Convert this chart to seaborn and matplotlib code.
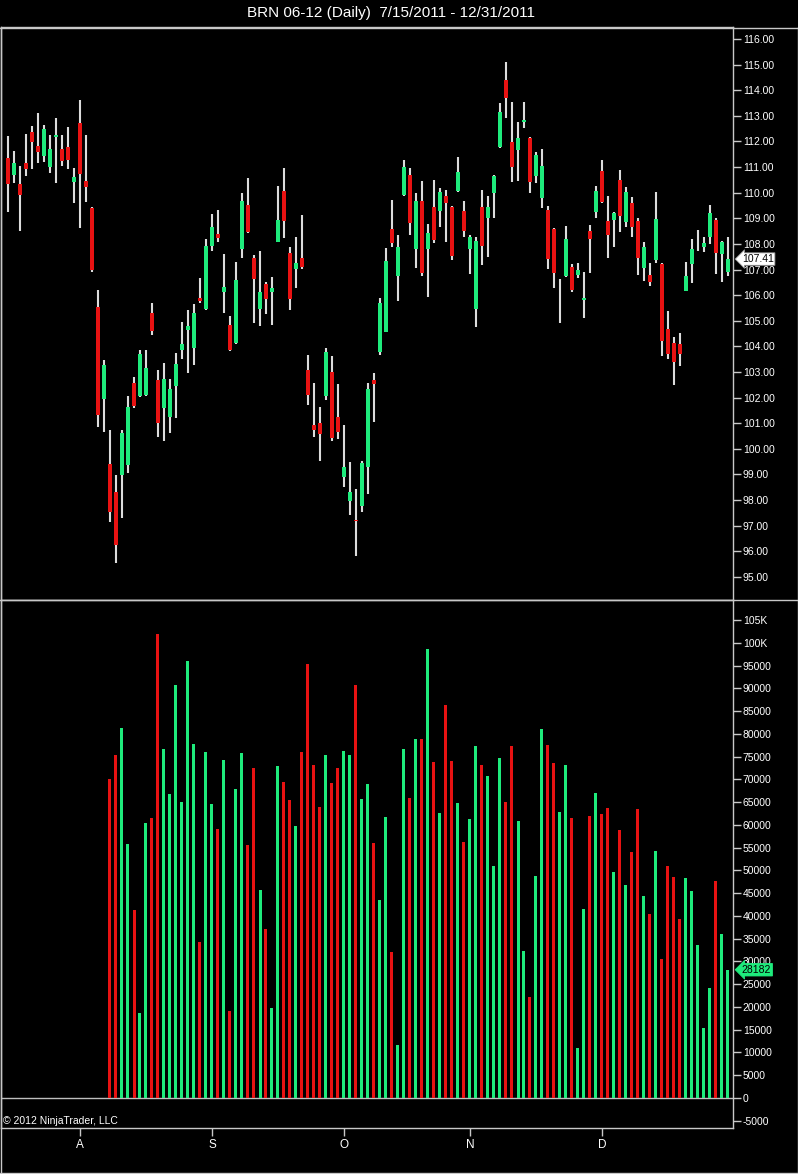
import numpy as np
import pandas as pd
import seaborn as sns
import matplotlib.pyplot as plt
import matplotlib.transforms as mtransforms
from matplotlib.lines import Line2D

sns.set_theme(style="dark", rc={
    "figure.facecolor": "black",
    "axes.facecolor": "black",
    "axes.edgecolor": "#C8C8C8",
    "text.color": "white",
    "xtick.color": "#C8C8C8",
    "ytick.color": "#C8C8C8",
})
plt.rcParams["font.family"] = ["Liberation Sans", "DejaVu Sans"]

title = "BRN 06-12 (Daily)  7/15/2011 - 12/31/2011"

# daily OHLC, one entry per trading day (121 bars)
opens = [
    111.34, 110.69, 110.33, 111.15, 112.36, 111.84, 111.43, 111.02, 112.18, 111.69,
    111.77, 110.43, 112.73, 110.46, 109.39, 105.55, 101.94, 99.40, 98.31, 98.98,
    99.37, 102.56, 102.07, 102.10, 105.29, 102.69, 101.61, 101.24, 102.46, 103.86,
    104.64, 103.93, 105.88, 105.46, 107.92, 108.39, 106.14, 104.84, 104.12, 107.79,
    109.52, 107.44, 105.45, 106.44, 106.14, 108.09, 110.08, 107.66, 107.01, 107.44,
    103.08, 100.93, 101.00, 102.07, 103.01, 101.26, 98.92, 97.98, 97.22, 97.77,
    99.31, 102.69, 103.79, 104.58, 108.57, 106.75, 109.91, 110.69, 107.79, 109.69,
    107.79, 109.43, 109.30, 109.87, 109.45, 110.08, 109.30, 107.79, 105.45, 109.45,
    109.00, 110.00, 111.80, 114.40, 111.97, 111.67, 112.75, 112.15, 110.66, 109.81,
    109.33, 108.58, 105.60, 106.76, 107.11, 106.79, 105.82, 108.51, 109.26, 110.86,
    108.91, 108.94, 110.50, 108.87, 109.61, 108.91, 107.05, 106.79, 107.37, 107.22,
    104.67, 104.15, 104.10, 106.18, 107.22, 108.10, 107.89, 108.26, 108.94, 107.61,
    106.92,
]
highs = [
    112.21, 111.63, 111.04, 112.29, 112.60, 113.11, 112.64, 112.25, 112.93, 112.25,
    112.57, 110.95, 113.62, 112.25, 109.45, 106.20, 103.47, 100.74, 98.98, 100.74,
    102.07, 102.82, 103.86, 103.86, 105.71, 103.08, 103.34, 102.73, 103.73, 104.97,
    105.42, 105.66, 106.66, 108.18, 109.16, 109.33, 107.61, 105.19, 107.31, 109.98,
    110.56, 107.57, 107.74, 106.53, 106.70, 110.26, 110.95, 107.87, 108.26, 109.13,
    103.67, 102.56, 101.62, 103.93, 103.63, 102.53, 100.93, 99.50, 98.42, 99.54,
    102.56, 102.98, 105.88, 107.83, 109.72, 108.35, 111.28, 110.95, 110.00, 110.47,
    108.78, 110.50, 110.17, 110.11, 109.47, 111.41, 109.69, 108.35, 108.26, 110.11,
    109.87, 110.69, 113.49, 115.11, 113.55, 112.77, 113.55, 112.17, 111.58, 111.71,
    109.49, 108.63, 106.63, 108.71, 107.21, 107.25, 106.92, 108.74, 110.26, 111.28,
    109.87, 109.26, 110.89, 110.24, 109.82, 109.00, 108.09, 107.25, 110.04, 107.25,
    105.40, 104.38, 104.54, 107.31, 108.18, 108.54, 108.26, 109.52, 109.00, 108.11,
    108.26,
]
lows = [
    109.26, 110.39, 108.52, 110.66, 110.94, 111.15, 111.21, 110.78, 110.39, 111.04,
    110.93, 109.61, 108.63, 109.65, 106.92, 100.87, 100.67, 97.16, 95.54, 97.29,
    99.05, 101.59, 102.04, 102.08, 104.45, 100.48, 100.32, 100.63, 101.19, 103.50,
    102.97, 103.28, 105.71, 105.44, 107.74, 108.09, 105.32, 103.84, 104.10, 107.44,
    108.44, 104.90, 104.80, 105.27, 104.84, 108.07, 108.22, 105.42, 106.27, 107.01,
    101.71, 100.48, 99.54, 101.91, 100.32, 100.38, 98.50, 97.42, 95.82, 97.55,
    98.24, 101.06, 103.67, 104.55, 107.89, 105.79, 109.88, 108.35, 107.05, 106.75,
    105.94, 108.05, 108.67, 108.09, 107.37, 110.04, 108.26, 106.83, 104.75, 107.18,
    107.50, 109.00, 111.73, 112.93, 110.43, 110.46, 112.51, 109.98, 110.37, 109.42,
    107.02, 106.27, 104.90, 106.72, 106.11, 106.68, 105.10, 106.88, 109.00, 109.61,
    107.44, 107.89, 108.48, 108.67, 108.28, 106.79, 106.57, 106.36, 107.27, 103.63,
    103.50, 102.49, 103.24, 106.16, 106.49, 107.74, 107.70, 108.00, 106.83, 106.53,
    106.75,
]
closes = [
    110.34, 111.15, 109.91, 110.93, 111.99, 111.60, 112.49, 111.71, 112.25, 111.24,
    111.28, 110.63, 110.72, 110.24, 106.98, 101.32, 103.28, 97.55, 96.25, 100.63,
    101.65, 101.68, 103.70, 103.15, 104.61, 101.02, 102.72, 102.33, 103.30, 104.08,
    104.80, 105.29, 105.79, 107.92, 108.67, 108.22, 106.31, 103.86, 106.59, 109.69,
    108.48, 106.62, 106.14, 105.84, 106.27, 108.94, 108.91, 105.84, 107.27, 107.09,
    102.10, 100.74, 100.58, 103.79, 100.41, 100.67, 99.28, 98.33, 97.20, 99.46,
    102.33, 102.53, 105.68, 107.35, 108.05, 107.89, 111.00, 108.83, 109.69, 106.88,
    108.44, 108.15, 110.04, 109.59, 107.53, 110.82, 108.52, 108.26, 108.13, 107.92,
    109.43, 110.65, 113.16, 113.69, 111.02, 112.15, 112.84, 110.41, 111.47, 111.05,
    107.41, 106.85, 105.60, 108.19, 106.20, 106.98, 105.88, 108.18, 110.08, 109.65,
    108.35, 109.20, 109.09, 110.04, 108.65, 107.44, 107.87, 106.53, 108.96, 104.22,
    103.70, 103.41, 103.70, 106.75, 107.79, 108.10, 108.03, 109.22, 107.66, 108.09,
    107.41,
]

# volume is only reported from bar 17 onward
first_volume_bar = 17
volumes = [
    70090, 75360, 81220, 55800, 41300, 18740, 60350, 61450, 101870, 76680,
    66720, 90740, 64960, 96010, 77770, 34340, 76020, 64590, 59100, 74260,
    19180, 67890, 75800, 55580, 72430, 45700, 37130, 19700, 72940, 69490,
    65470, 59760, 76020, 95350, 73160, 64000, 75360, 69140, 72570, 76240,
    75360, 90740, 65620, 68990, 55960, 43500, 61670, 32010, 11640, 76680,
    65840, 78870, 78870, 98580, 73750, 62550, 86340, 74040, 64740, 56170,
    61230, 77330, 73160, 70740, 51040, 74700, 64960, 77330, 60860, 32300,
    22260, 48770, 81000, 77550, 73530, 62770, 73160, 61450, 10920, 41460,
    61960, 66940, 62330, 63650, 49590, 58880, 46800, 53980, 63430, 44380,
    40420, 54270, 30540, 50970, 48490, 39260, 48270, 45480, 33610, 15310,
    24100, 47740, 35970, 28182,
]

# month starts (bar index) and their labels
month_bars = [12, 34, 56, 77, 99]
month_labels = ["A", "S", "O", "N", "D"]

price_ticks = np.arange(95, 117, 1)
volume_ticks = np.arange(-5000, 110000, 5000)

UP = "#1EEB7C"
DOWN = "#E81212"
WICK = "#DCDCDC"
LINE = "#C8C8C8"

df = pd.DataFrame({"open": opens, "high": highs, "low": lows, "close": closes})
df["bar"] = np.arange(len(df))
df["dir"] = np.where(df["close"] >= df["open"], "up", "down")
vol_df = df.iloc[first_volume_bar:].copy()
vol_df["volume"] = volumes

W, H = 798, 1174
fig = plt.figure(figsize=(W / 100, H / 100), dpi=100)
axp = fig.add_axes([1 / W, 1 - 600 / H, 732 / W, 573 / H])
axv = fig.add_axes([1 / W, 1 - 1128 / H, 732 / W, 528 / H])

xlim = (-7 / 6, 725 / 6)

# price panel: wicks then bodies
axp.vlines(df["bar"], df["low"], df["high"], color=WICK, lw=1.5, zorder=2)
body_bottom = df[["open", "close"]].min(axis=1)
body_height = (df["close"] - df["open"]).abs()
axp.bar(df["bar"], body_height, bottom=body_bottom, width=0.6,
        color=[UP if d == "up" else DOWN for d in df["dir"]], linewidth=0, zorder=3)
axp.set_xlim(*xlim)
axp.set_ylim(94.10, 116.47)
axp.set_xticks([])
axp.yaxis.tick_right()
axp.set_yticks(price_ticks)
axp.set_yticklabels([f"{p:.2f}" for p in price_ticks])
axp.tick_params(axis="y", right=True, left=False, length=6, width=1, colors=LINE,
                labelcolor="white", labelsize=7.5, pad=1)
axp.grid(False)

# volume panel
sns.barplot(data=vol_df, x="bar", y="volume", hue="dir", palette={"up": UP, "down": DOWN},
            native_scale=True, dodge=False, width=0.5, saturation=1, errorbar=None,
            legend=False, linewidth=0, ax=axv)
axv.axhline(0, color="#BEBEBE", lw=1, zorder=0.5)
axv.set_xlim(*xlim)
axv.set_ylim(-6590, 109400)
axv.yaxis.tick_right()
axv.set_yticks(volume_ticks)
axv.set_yticklabels([f"{v // 1000}K" if v >= 100000 else f"{v}" for v in volume_ticks])
axv.tick_params(axis="y", right=True, left=False, length=6, width=1, colors=LINE,
                labelcolor="white", labelsize=7.5, pad=1)
axv.set_xticks(month_bars)
axv.set_xticklabels(month_labels)
axv.tick_params(axis="x", bottom=True, length=6, width=1, colors=LINE,
                labelcolor="white", labelsize=8.5, pad=2)
axv.set_xlabel("")
axv.set_ylabel("")
axv.grid(False)

for ax in (axp, axv):
    for s in ax.spines.values():
        s.set_color(LINE)
        s.set_linewidth(1)

# last value markers on the right axis
trans_p = mtransforms.blended_transform_factory(axp.transAxes, axp.transData)
axp.text(1.012, closes[-1], f"{closes[-1]:.2f}", transform=trans_p, ha="left", va="center",
         fontsize=7.5, color="black", clip_on=False, zorder=10,
         bbox=dict(boxstyle="larrow,pad=0.12", fc="white", ec="#909090", lw=0.6))
trans_v = mtransforms.blended_transform_factory(axv.transAxes, axv.transData)
axv.text(1.012, volumes[-1], f"{volumes[-1]}", transform=trans_v, ha="left", va="center",
         fontsize=7.5, color="black", clip_on=False, zorder=10,
         bbox=dict(boxstyle="larrow,pad=0.12", fc=UP, ec=UP, lw=0.6))

# frame lines and texts
def hline(y, x0=0, x1=W):
    fig.add_artist(Line2D([x0 / W, x1 / W], [1 - y / H, 1 - y / H], color=LINE, lw=1))

def vline(x, y0, y1):
    fig.add_artist(Line2D([x / W, x / W], [1 - y0 / H, 1 - y1 / H], color=LINE, lw=1))

hline(27.5)
hline(600)
hline(1172.5)
vline(0.5, 27, 1173)
vline(797.5, 27, 1173)

fig.text(391 / W, 1 - 13 / H, title, ha="center", va="center", fontsize=11, color="white")
fig.text(3 / W, 1 - 1121 / H, "\u00a9 2012 NinjaTrader, LLC", ha="left", va="center",
         fontsize=7.5, color="white")

fig.savefig("out.png", dpi=100, facecolor="black")
